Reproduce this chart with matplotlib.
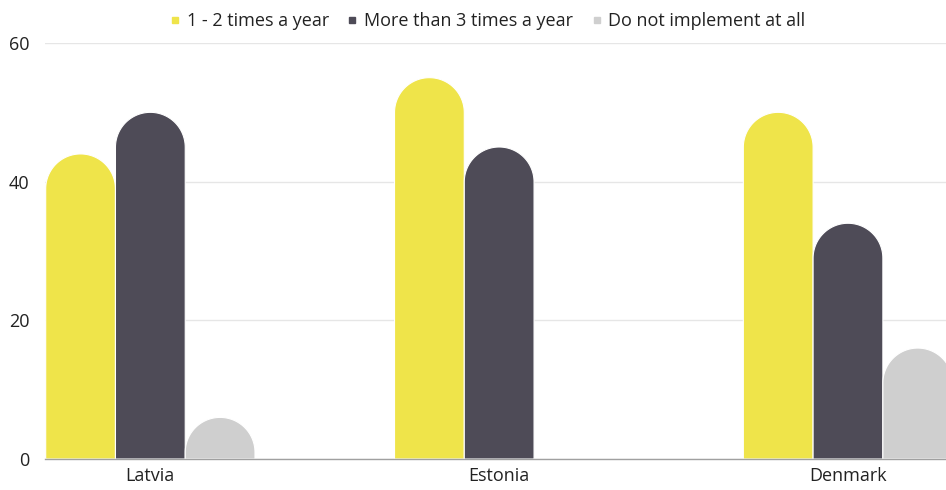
import numpy as np
import matplotlib
matplotlib.use("Agg")
import matplotlib.pyplot as plt
from matplotlib.path import Path
from matplotlib.patches import PathPatch
from matplotlib.lines import Line2D

plt.rcParams['font.family'] = ['Open Sans', 'DejaVu Sans']

categories = ["Latvia", "Estonia", "Denmark"]
series_names = ["1 - 2 times a year", "More than 3 times a year", "Do not implement at all"]
values_1_2 = [44, 55, 50]
values_3plus = [50, 45, 34]
values_none = [6, 0, 16]
colors = ["#EFE44A", "#4E4B57", "#CFCFCF"]
yticks = [0, 20, 40, 60]

W, H = 946, 490
fig = plt.figure(figsize=(W / 100, H / 100), dpi=100)
left, right, bottom, top = 45, 946, 459, 43
ax = fig.add_axes([left / W, (H - bottom) / H, (right - left) / W, (bottom - top) / H])

xmin, xmax = -0.302, 2.281
ymin, ymax = 0, 60
ax.set_xlim(xmin, xmax)
ax.set_ylim(ymin, ymax)

px_x = (right - left) / (xmax - xmin)
px_y = (bottom - top) / (ymax - ymin)

bw = 0.2
rx = bw / 2
ry = rx * px_x / px_y

def rounded_bar(ax, xc, v, color):
    if v <= 0:
        return
    ys = max(v - ry, 0)
    t = np.linspace(np.pi, 0, 60)
    xs = xc + rx * np.cos(t)
    yy = ys + ry * np.sin(t)
    verts = [(xc - rx, 0), (xc - rx, ys)] + list(zip(xs, yy)) + [(xc + rx, 0), (xc - rx, 0)]
    codes = [Path.MOVETO] + [Path.LINETO] * (len(verts) - 2) + [Path.CLOSEPOLY]
    p = PathPatch(Path(verts, codes), facecolor=color, edgecolor="white", lw=0.8, zorder=3)
    ax.add_patch(p)

all_series = [values_1_2, values_3plus, values_none]
offsets = [-bw, 0, bw]
for s, vals in enumerate(all_series):
    for i, v in enumerate(vals):
        rounded_bar(ax, i + offsets[s], v, colors[s])

fs = 13
ax.set_yticks(yticks)
ax.set_xticks(range(len(categories)))
ax.set_xticklabels(categories)
ax.grid(axis='y', color="#E6E6E6", lw=1, zorder=0)
ax.set_axisbelow(True)
for sp in ["top", "right", "left"]:
    ax.spines[sp].set_visible(False)
ax.spines["bottom"].set_color("#A0A0A0")
ax.spines["bottom"].set_linewidth(1)
ax.spines["bottom"].set_zorder(4)
ax.tick_params(axis='both', length=0, labelsize=fs, colors="#222222")
ax.tick_params(axis='y', pad=11)
ax.tick_params(axis='x', pad=6)

handles = [Line2D([], [], marker='s', linestyle='none', markersize=5,
                  markerfacecolor=c, markeredgecolor=c) for c in colors]
fig.legend(handles, series_names, loc='center', bbox_to_anchor=(488 / W, 1 - 21 / H),
           ncol=3, frameon=False, fontsize=fs, handlelength=0.5, handletextpad=0.4,
           columnspacing=1.05, labelcolor="#222222")

fig.savefig("out.png", dpi=100)
